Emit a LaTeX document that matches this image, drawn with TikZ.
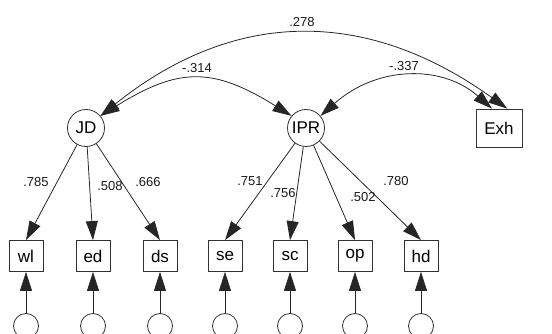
\documentclass[tikz,border=0pt]{standalone}
\usepackage{fontspec}
\setmainfont{Liberation Sans}
\usetikzlibrary{arrows.meta}
\begin{document}
\begin{tikzpicture}[x=1pt,y=-1pt,
  conn/.style={draw=black!85, line width=0.8pt, -{Triangle[length=19pt,width=12pt]}},
  corr/.style={draw=black!85, line width=0.8pt, {Triangle[length=19pt,width=12pt]}-{Triangle[length=19pt,width=12pt]}},
  latent/.style={draw=black!80, line width=0.8pt, circle, minimum size=37pt, inner sep=0pt, font=\fontsize{17}{19}\selectfont},
  obs/.style={draw=black!80, line width=0.8pt, rectangle, minimum width=34pt, minimum height=31pt, inner sep=0pt, font=\fontsize{17}{19}\selectfont},
  bigobs/.style={obs, minimum width=46pt, minimum height=38pt},
  err/.style={draw=black!80, line width=0.8pt, circle, minimum size=25pt, inner sep=0pt},
  lab/.style={font=\fontsize{13}{15}\selectfont, text=black!90, inner sep=0pt}]
\useasboundingbox (0,0) rectangle (552,334);
% latent variables
\node[latent] (JD) at (86,128) {JD};
\node[latent] (IPR) at (306,128) {IPR};
\node[bigobs] (Exh) at (499,128) {Exh};
% indicators
\node[obs] (wl) at (26,256) {wl};
\node[obs] (ed) at (93,256) {ed};
\node[obs] (ds) at (160,256) {ds};
\node[obs] (se) at (225,256) {se};
\node[obs] (sc) at (290,256) {sc};
\node[obs] (op) at (355,256) {op};
\node[obs] (hd) at (421,256) {hd};
% error terms
\foreach \n/\x in {wl/26,ed/93,ds/160,se/225,sc/290,op/355,hd/421}{
  \node[err] (e\n) at (\x,326) {};
  \draw[conn] (e\n.north) -- (\n.south);
}
% loadings
\draw[conn] (JD) -- (wl.north);
\draw[conn] (JD) -- (ed.north);
\draw[conn] (JD) -- (ds.north);
\draw[conn] (IPR) -- (se.north);
\draw[conn] (IPR) -- (sc.north);
\draw[conn] (IPR) -- (op.north);
\draw[conn] (IPR) -- (hd.north);
% correlations
\draw[corr] (JD.40) .. controls (235,8) and (367,8) .. (Exh.67);
\draw[corr] (JD.40) .. controls (179,67) and (213,67) .. (IPR.140);
\draw[corr] (IPR.40) .. controls (378,65) and (443,65) .. (Exh.110);
% labels
\node[lab] (l278) at (302,22) {.278};
\node[lab] (l314) at (197,68) {-.314};
\node[lab] (l337) at (404,66) {-.337};
\node[lab] (l785) at (36,182) {.785};
\node[lab] (l508) at (110,186) {.508};
\node[lab] (l666) at (148,182) {.666};
\node[lab] (l751) at (250,181) {.751};
\node[lab] (l756) at (283,193) {.756};
\node[lab] (l502) at (363,197) {.502};
\node[lab] (l780) at (396,181) {.780};
\end{tikzpicture}
\end{document}
